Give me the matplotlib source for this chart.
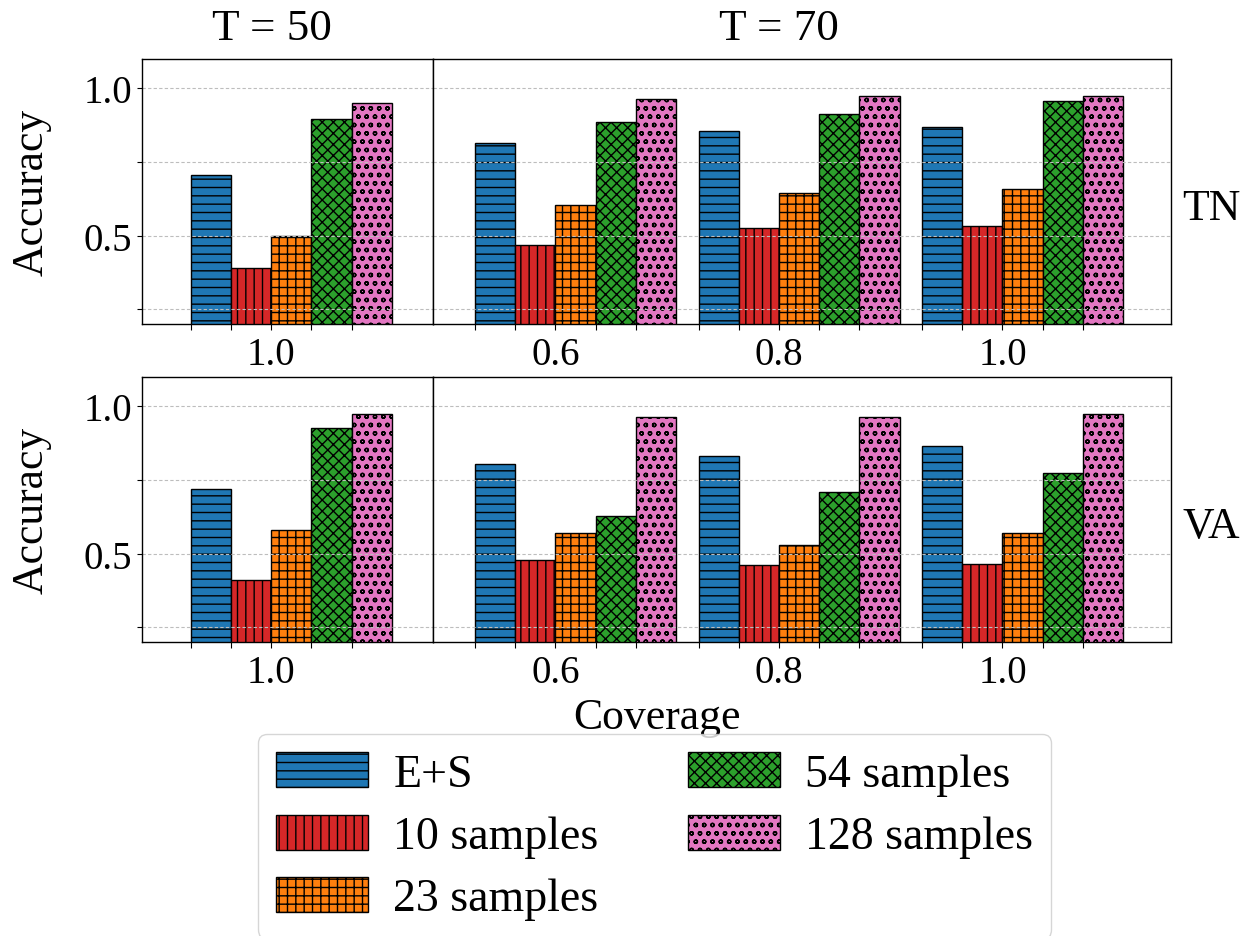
import numpy as np
import matplotlib
matplotlib.use("Agg")
import matplotlib.pyplot as plt

plt.rcParams['font.family'] = ['Liberation Serif', 'DejaVu Serif']
plt.rcParams['hatch.linewidth'] = 1.0

# data
methods = ['E+S', '10 samples', '23 samples', '54 samples', '128 samples']
colors = ['#1f77b4', '#d62728', '#ff7f0e', '#2ca02c', '#e377c2']
hatches = ['--', '||', '++', 'xxx', 'oo']

cov_t50 = ['1.0']
cov_t70 = ['0.6', '0.8', '1.0']

# per method, one value per coverage
tn_t50 = [[0.706], [0.389], [0.500], [0.895], [0.950]]
tn_t70 = [[0.814, 0.854, 0.870],
          [0.470, 0.527, 0.533],
          [0.605, 0.645, 0.659],
          [0.886, 0.914, 0.956],
          [0.963, 0.974, 0.974]]
va_t50 = [[0.720], [0.412], [0.582], [0.926], [0.973]]
va_t70 = [[0.806, 0.833, 0.865],
          [0.477, 0.460, 0.465],
          [0.571, 0.531, 0.571],
          [0.629, 0.708, 0.774],
          [0.965, 0.965, 0.973]]

rows = [('TN', tn_t50, tn_t70), ('VA', va_t50, va_t70)]

W, H = 1248, 937
fig = plt.figure(figsize=(W / 100, H / 100), dpi=100)

w = 0.18
tick_fs = 28
lab_fs = 31.5


def px_ax(x0, y0, x1, y1):
    return fig.add_axes([x0 / W, 1 - y1 / H, (x1 - x0) / W, (y1 - y0) / H])


def draw(ax, cats, vals, xlim):
    x = np.arange(len(cats))
    ticks, labs = [], []
    for j, m in enumerate(methods):
        left = x - 0.45 + j * w
        ax.bar(left, vals[j], w, align='edge', color=colors[j], hatch=hatches[j],
               edgecolor='black', linewidth=1.0, label=m)
    # a tick at each bar's left edge, the label sits on the middle bar's tick
    for i, c in enumerate(cats):
        for j in range(len(methods)):
            ticks.append(x[i] - 0.45 + j * w)
            labs.append(c if j == 2 else '')
    ax.set_xlim(*xlim)
    ax.set_ylim(0.2, 1.1)
    ax.set_xticks(ticks)
    ax.set_xticklabels(labs, fontsize=tick_fs)
    ax.tick_params(axis='x', length=4.5, pad=4)
    ax.set_yticks([0.25, 0.5, 0.75, 1.0])
    ax.yaxis.grid(True, linestyle=(0, (3, 2)), color='#bdbdbd', linewidth=0.8)
    for s in ax.spines.values():
        s.set_linewidth(1.0)


axes_rows = [(60, 325), (378, 643)]
for (name, d50, d70), (y0, y1) in zip(rows, axes_rows):
    a1 = px_ax(142, y0, 433, y1)
    a2 = px_ax(433, y0, 1171, y1)
    draw(a1, cov_t50, d50, (-0.670, 0.635))
    draw(a2, cov_t70, d70, (-0.638, 2.664))
    a1.set_yticklabels(['', '0.5', '', '1.0'], fontsize=tick_fs)
    a2.tick_params(axis='y', left=False, labelleft=False)
    a2.text(1.015, 0.436, name, transform=a2.transAxes, ha='left', va='center',
            fontsize=lab_fs)
    fig.text(32 / W, 1 - (y0 + y1) / 2 / H, 'Accuracy', rotation=90,
             ha='center', va='center', fontsize=lab_fs)

fig.text(272 / W, 1 - 29 / H, 'T = 50', ha='center', va='center', fontsize=32.5)
fig.text(779 / W, 1 - 29 / H, 'T = 70', ha='center', va='center', fontsize=32.5)
fig.text(657 / W, 1 - 718 / H, 'Coverage', ha='center', va='center', fontsize=lab_fs)

handles, labels = a2.get_legend_handles_labels()
fig.legend(handles, labels, loc='upper left', bbox_to_anchor=(258 / W, 1 - 735 / H),
           ncol=2, fontsize=33, handlelength=2.0, handleheight=0.8,
           labelspacing=0.41, handletextpad=0.55, columnspacing=1.95,
           borderaxespad=0)

fig.savefig('out.png', dpi=100)
